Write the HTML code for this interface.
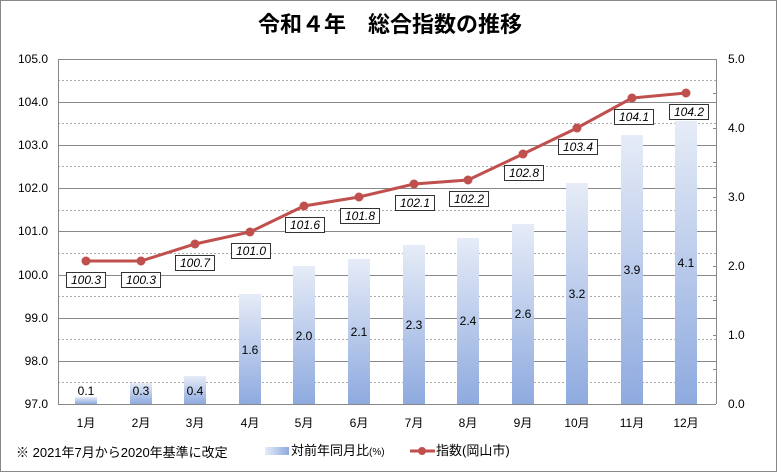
<!DOCTYPE html>
<html><head><meta charset="utf-8"><style>
body{margin:0;background:#fff}
svg{display:block}
text{font-family:"Liberation Sans","Noto Sans CJK JP",sans-serif}
</style></head><body>
<svg width="777" height="472" viewBox="0 0 777 472" xmlns="http://www.w3.org/2000/svg">
<defs>
<linearGradient id="bg" x1="0" y1="0" x2="0" y2="1">
<stop offset="0" stop-color="#e6ecf7"/><stop offset="1" stop-color="#8eaadf"/>
</linearGradient>
<linearGradient id="lg" x1="0" y1="0" x2="1" y2="0">
<stop offset="0" stop-color="#e6ecf7"/><stop offset="1" stop-color="#8eaadf"/>
</linearGradient>
</defs>
<rect x="0.5" y="0.5" width="776" height="471" fill="#fff" stroke="#888"/>
<text x="390" y="32" font-size="22" font-weight="bold" text-anchor="middle">令和４年　総合指数の推移</text>
<g stroke="#aaa" stroke-dasharray="2,2" stroke-width="1">
<line x1="58" x2="716" y1="80.5" y2="80.5"/><line x1="58" x2="716" y1="123.5" y2="123.5"/>
<line x1="58" x2="716" y1="166.5" y2="166.5"/><line x1="58" x2="716" y1="210.5" y2="210.5"/>
<line x1="58" x2="716" y1="253.5" y2="253.5"/><line x1="58" x2="716" y1="296.5" y2="296.5"/>
<line x1="58" x2="716" y1="339.5" y2="339.5"/><line x1="58" x2="716" y1="382.5" y2="382.5"/>
</g>
<g stroke="#888" stroke-width="1">
<line x1="58" x2="716" y1="59.5" y2="59.5"/><line x1="58" x2="716" y1="102.5" y2="102.5"/>
<line x1="58" x2="716" y1="145.5" y2="145.5"/><line x1="58" x2="716" y1="188.5" y2="188.5"/>
<line x1="58" x2="716" y1="231.5" y2="231.5"/><line x1="58" x2="716" y1="275.5" y2="275.5"/>
<line x1="58" x2="716" y1="318.5" y2="318.5"/><line x1="58" x2="716" y1="361.5" y2="361.5"/>
<line x1="58.5" x2="58.5" y1="59" y2="404"/>
<line x1="716.5" x2="716.5" y1="59" y2="404"/>
</g>
<g fill="url(#bg)">
<rect x="75" y="397" width="22" height="7"/>
<rect x="130" y="383" width="22" height="21"/>
<rect x="184" y="376" width="22" height="28"/>
<rect x="239" y="294" width="22" height="110"/>
<rect x="293" y="266" width="22" height="138"/>
<rect x="348" y="259" width="22" height="145"/>
<rect x="403" y="245" width="22" height="159"/>
<rect x="457" y="238" width="22" height="166"/>
<rect x="512" y="224" width="22" height="180"/>
<rect x="566" y="183" width="22" height="221"/>
<rect x="621" y="135" width="22" height="269"/>
<rect x="675" y="121" width="22" height="283"/>
</g>
<line x1="58" x2="716" y1="404.5" y2="404.5" stroke="#888"/>
<g stroke="#888">
<line x1="713" x2="716" y1="59.5" y2="59.5"/><line x1="713" x2="716" y1="93.5" y2="93.5"/><line x1="713" x2="716" y1="128.5" y2="128.5"/><line x1="713" x2="716" y1="162.5" y2="162.5"/><line x1="713" x2="716" y1="197.5" y2="197.5"/><line x1="713" x2="716" y1="231.5" y2="231.5"/><line x1="713" x2="716" y1="266.5" y2="266.5"/><line x1="713" x2="716" y1="300.5" y2="300.5"/><line x1="713" x2="716" y1="335.5" y2="335.5"/><line x1="713" x2="716" y1="369.5" y2="369.5"/>
</g>
<g font-size="12" fill="#000" text-anchor="middle">
<text x="86" y="395">0.1</text><text x="141" y="395">0.3</text><text x="195" y="395">0.4</text>
<text x="250" y="354">1.6</text><text x="304" y="340">2.0</text><text x="359" y="336">2.1</text>
<text x="414" y="329">2.3</text><text x="468" y="325">2.4</text><text x="523" y="318">2.6</text>
<text x="577" y="298">3.2</text><text x="632" y="274">3.9</text><text x="686" y="267">4.1</text>
</g>
<polyline fill="none" stroke="#c0504d" stroke-width="3" points="86,261 141,261 195,244 250,232 304,206 359,197 414,184 468,180 523,154 577,128 632,98 686,93"/>
<g fill="#c0504d">
<circle cx="86" cy="261" r="4.5"/><circle cx="141" cy="261" r="4.5"/><circle cx="195" cy="244" r="4.5"/><circle cx="250" cy="232" r="4.5"/><circle cx="304" cy="206" r="4.5"/><circle cx="359" cy="197" r="4.5"/><circle cx="414" cy="184" r="4.5"/><circle cx="468" cy="180" r="4.5"/><circle cx="523" cy="154" r="4.5"/><circle cx="577" cy="128" r="4.5"/><circle cx="632" cy="98" r="4.5"/><circle cx="686" cy="93" r="4.5"/>
</g>
<g font-size="12" font-style="italic" text-anchor="middle">
<g fill="#fff" stroke="#333" stroke-width="1">
<rect x="66.5" y="272.5" width="39" height="15"/><rect x="121.5" y="272.5" width="39" height="15"/><rect x="175.5" y="255.5" width="39" height="15"/><rect x="231.5" y="243.5" width="39" height="15"/><rect x="285.5" y="217.5" width="39" height="15"/><rect x="340.5" y="208.5" width="39" height="15"/><rect x="395.5" y="195.5" width="39" height="15"/><rect x="449.5" y="191.5" width="39" height="15"/><rect x="504.5" y="165.5" width="39" height="15"/><rect x="558.5" y="139.5" width="39" height="15"/><rect x="614.5" y="109.5" width="39" height="15"/><rect x="669.5" y="104.5" width="39" height="15"/>
</g>
<text x="86" y="284">100.3</text><text x="141" y="284">100.3</text><text x="195" y="267">100.7</text><text x="251" y="255">101.0</text><text x="305" y="229">101.6</text><text x="360" y="220">101.8</text><text x="415" y="207">102.1</text><text x="469" y="203">102.2</text><text x="524" y="177">102.8</text><text x="578" y="151">103.4</text><text x="634" y="121">104.1</text><text x="689" y="116">104.2</text>
</g>
<g font-size="12" text-anchor="end">
<text x="48" y="63">105.0</text><text x="48" y="106">104.0</text><text x="48" y="149">103.0</text><text x="48" y="192">102.0</text><text x="48" y="235">101.0</text><text x="48" y="279">100.0</text><text x="48" y="322">99.0</text><text x="48" y="365">98.0</text><text x="48" y="408">97.0</text>
</g>
<g font-size="12">
<text x="728" y="63">5.0</text><text x="728" y="132">4.0</text><text x="728" y="201">3.0</text><text x="728" y="270">2.0</text><text x="728" y="339">1.0</text><text x="728" y="408">0.0</text>
</g>
<g font-size="12" text-anchor="middle">
<text x="86" y="427">1月</text><text x="141" y="427">2月</text><text x="195" y="427">3月</text><text x="250" y="427">4月</text><text x="304" y="427">5月</text><text x="359" y="427">6月</text><text x="414" y="427">7月</text><text x="468" y="427">8月</text><text x="523" y="427">9月</text><text x="577" y="427">10月</text><text x="632" y="427">11月</text><text x="686" y="427">12月</text>
</g>
<text x="16" y="457" font-size="13">※ 2021年7月から2020年基準に改定</text>
<rect x="265" y="447" width="24" height="8" fill="url(#lg)"/>
<text x="291" y="455" font-size="13">対前年同月比<tspan font-size="10">(%)</tspan></text>
<line x1="410" x2="435" y1="451" y2="451" stroke="#c0504d" stroke-width="3"/>
<circle cx="422" cy="451" r="4" fill="#c0504d"/>
<text x="436" y="455" font-size="13">指数(岡山市)</text>
</svg>
</body></html>
